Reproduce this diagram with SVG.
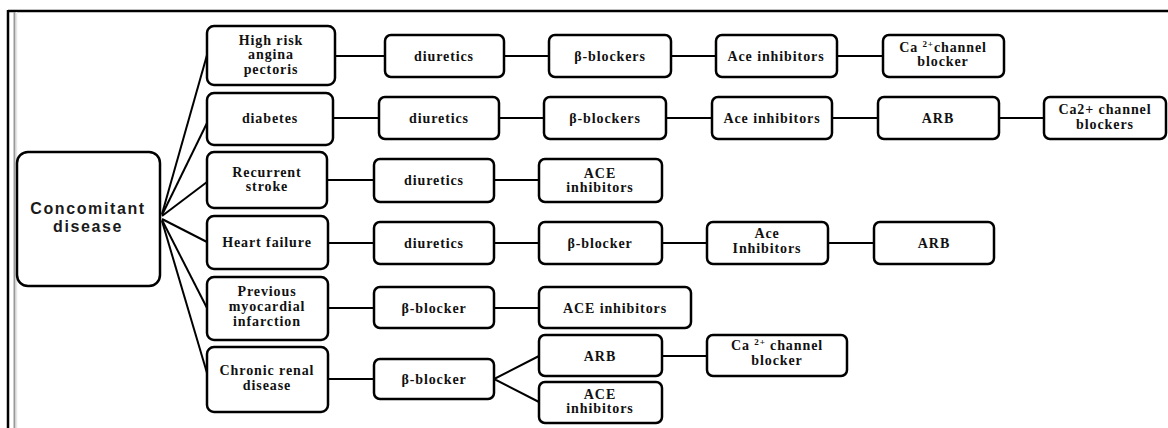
<svg xmlns="http://www.w3.org/2000/svg" width="1168" height="428" viewBox="0 0 1168 428">
<style>
.box{fill:#fff;stroke:#000;stroke-width:2.5}
.t{font-family:"Liberation Serif",serif;font-weight:bold;font-size:14px;letter-spacing:0.9px;text-anchor:middle;fill:#111}
.root{font-family:"Liberation Sans",Arial,sans-serif;font-weight:bold;font-size:16px;letter-spacing:1.6px;text-anchor:middle;fill:#1a1a1a}
.sup{font-size:9px}
#connectors line,#connectors polyline{stroke:#000;stroke-width:2;fill:none}
</style>
<rect width="1168" height="428" fill="#fff"/>
<g id="frame">
<line x1="8" y1="11" x2="1168" y2="11" stroke="#000" stroke-width="2.5"/>
<line x1="8" y1="10" x2="8" y2="428" stroke="#000" stroke-width="2.5"/>
<line x1="14.5" y1="12" x2="14.5" y2="428" stroke="#999" stroke-width="2"/>
<line x1="16.5" y1="12" x2="16.5" y2="428" stroke="#e6e6e6" stroke-width="1.5"/>
</g>
<g id="connectors">
<line x1="162" y1="214" x2="207" y2="55"/>
<line x1="162" y1="215" x2="207" y2="123"/>
<line x1="162" y1="216" x2="207" y2="182"/>
<line x1="162" y1="219" x2="207" y2="242"/>
<line x1="162" y1="220" x2="207" y2="308"/>
<line x1="162" y1="221" x2="207" y2="373"/>
<line x1="335" y1="56" x2="385" y2="56"/>
<line x1="504" y1="56" x2="549" y2="56"/>
<line x1="671" y1="56" x2="716" y2="56"/>
<line x1="837" y1="56" x2="883" y2="56"/>
<line x1="333" y1="118" x2="379" y2="118"/>
<line x1="499" y1="118" x2="544" y2="118"/>
<line x1="666" y1="118" x2="712" y2="118"/>
<line x1="832" y1="118" x2="878" y2="118"/>
<line x1="999" y1="118" x2="1044" y2="118"/>
<line x1="327" y1="180" x2="374" y2="180"/>
<line x1="494" y1="180" x2="539" y2="180"/>
<line x1="328" y1="243" x2="374" y2="243"/>
<line x1="494" y1="243" x2="539" y2="243"/>
<line x1="662" y1="243" x2="707" y2="243"/>
<line x1="828" y1="243" x2="874" y2="243"/>
<line x1="328" y1="308" x2="374" y2="308"/>
<line x1="494" y1="308" x2="539" y2="308"/>
<line x1="328" y1="379" x2="374" y2="379"/>
<polyline points="539,356 494,379 539,402"/>
<line x1="662" y1="356" x2="707" y2="356"/>
</g>
<g id="root">
<rect class="box" x="17" y="152" width="143" height="134" rx="11"/>
<text class="root" x="88" y="214">Concomitant</text>
<text class="root" x="88" y="232">disease</text>
</g>
<g id="n-angina">
<rect class="box" x="207" y="26" width="128" height="59" rx="7"/>
<text class="t" x="271" y="45">High risk</text>
<text class="t" x="271" y="59">angina</text>
<text class="t" x="271" y="74">pectoris</text>
</g>
<g id="n-diabetes">
<rect class="box" x="207" y="93" width="126" height="52" rx="7"/>
<text class="t" x="270" y="123">diabetes</text>
</g>
<g id="n-stroke">
<rect class="box" x="207" y="152" width="120" height="56" rx="7"/>
<text class="t" x="267" y="177">Recurrent</text>
<text class="t" x="267" y="191">stroke</text>
</g>
<g id="n-hf">
<rect class="box" x="207" y="216" width="121" height="53" rx="7"/>
<text class="t" x="267" y="247">Heart failure</text>
</g>
<g id="n-mi">
<rect class="box" x="207" y="277" width="121" height="63" rx="7"/>
<text class="t" x="267" y="296">Previous</text>
<text class="t" x="267" y="311">myocardial</text>
<text class="t" x="267" y="326">infarction</text>
</g>
<g id="n-ckd">
<rect class="box" x="207" y="347" width="121" height="65" rx="7"/>
<text class="t" x="267" y="375">Chronic renal</text>
<text class="t" x="267" y="390">disease</text>
</g>
<g id="r1-diuretics">
<rect class="box" x="385" y="35" width="119" height="42" rx="6"/>
<text class="t" x="444" y="61">diuretics</text>
</g>
<g id="r1-bb">
<rect class="box" x="549" y="35" width="122" height="42" rx="6"/>
<text class="t" x="610" y="61">β-blockers</text>
</g>
<g id="r1-ace">
<rect class="box" x="716" y="35" width="121" height="42" rx="6"/>
<text class="t" x="776" y="61">Ace inhibitors</text>
</g>
<g id="r1-ca">
<rect class="box" x="883" y="35" width="121" height="42" rx="6"/>
<text class="t" x="943" y="52">Ca <tspan class="sup" dy="-5">2+</tspan><tspan dy="5">channel</tspan></text>
<text class="t" x="943" y="66">blocker</text>
</g>
<g id="r2-diuretics">
<rect class="box" x="379" y="97" width="120" height="42" rx="6"/>
<text class="t" x="439" y="123">diuretics</text>
</g>
<g id="r2-bb">
<rect class="box" x="544" y="97" width="122" height="42" rx="6"/>
<text class="t" x="605" y="123">β-blockers</text>
</g>
<g id="r2-ace">
<rect class="box" x="712" y="97" width="120" height="42" rx="6"/>
<text class="t" x="772" y="123">Ace inhibitors</text>
</g>
<g id="r2-arb">
<rect class="box" x="878" y="97" width="121" height="42" rx="6"/>
<text class="t" x="938" y="123">ARB</text>
</g>
<g id="r2-ca">
<rect class="box" x="1044" y="97" width="122" height="42" rx="6"/>
<text class="t" x="1105" y="114">Ca2+ channel</text>
<text class="t" x="1105" y="129">blockers</text>
</g>
<g id="r3-diuretics">
<rect class="box" x="374" y="159" width="120" height="43" rx="6"/>
<text class="t" x="434" y="185">diuretics</text>
</g>
<g id="r3-ace">
<rect class="box" x="539" y="159" width="123" height="43" rx="6"/>
<text class="t" x="600" y="178">ACE</text>
<text class="t" x="600" y="192">inhibitors</text>
</g>
<g id="r4-diuretics">
<rect class="box" x="374" y="222" width="120" height="42" rx="6"/>
<text class="t" x="434" y="248">diuretics</text>
</g>
<g id="r4-bb">
<rect class="box" x="539" y="222" width="123" height="42" rx="6"/>
<text class="t" x="600" y="248">β-blocker</text>
</g>
<g id="r4-ace">
<rect class="box" x="707" y="222" width="121" height="42" rx="6"/>
<text class="t" x="767" y="238">Ace</text>
<text class="t" x="767" y="253">Inhibitors</text>
</g>
<g id="r4-arb">
<rect class="box" x="874" y="222" width="120" height="42" rx="6"/>
<text class="t" x="934" y="248">ARB</text>
</g>
<g id="r5-bb">
<rect class="box" x="374" y="287" width="120" height="41" rx="6"/>
<text class="t" x="434" y="313">β-blocker</text>
</g>
<g id="r5-ace">
<rect class="box" x="539" y="287" width="152" height="41" rx="6"/>
<text class="t" x="615" y="313">ACE inhibitors</text>
</g>
<g id="r6-bb">
<rect class="box" x="374" y="359" width="120" height="40" rx="6"/>
<text class="t" x="434" y="384">β-blocker</text>
</g>
<g id="r6-arb">
<rect class="box" x="539" y="335" width="123" height="41" rx="6"/>
<text class="t" x="600" y="361">ARB</text>
</g>
<g id="r6-ace">
<rect class="box" x="539" y="382" width="123" height="41" rx="6"/>
<text class="t" x="600" y="399">ACE</text>
<text class="t" x="600" y="413">inhibitors</text>
</g>
<g id="r6-ca">
<rect class="box" x="707" y="335" width="140" height="41" rx="6"/>
<text class="t" x="777" y="350">Ca <tspan class="sup" dy="-5">2+</tspan><tspan dy="5"> channel</tspan></text>
<text class="t" x="777" y="365">blocker</text>
</g>
</svg>
